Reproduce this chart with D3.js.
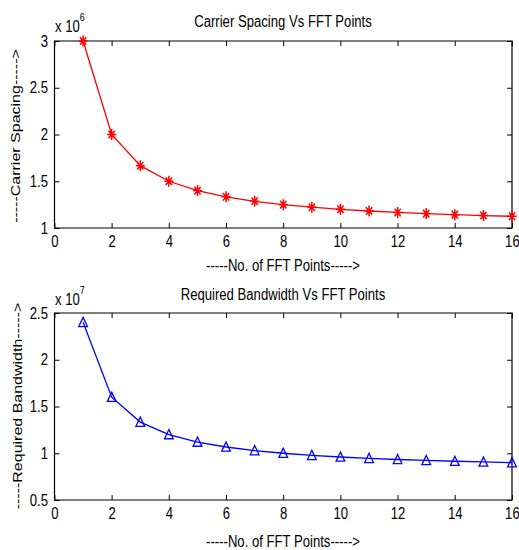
<!DOCTYPE html>
<html><head><meta charset="utf-8">
<script src="https://cdn.jsdelivr.net/npm/d3@7"></script>
<style>
body{margin:0;background:#fff;}
svg text{font-family:"Liberation Sans",Arial,Helvetica,sans-serif;fill:#000;}
svg path, svg line, svg rect{vector-effect:non-scaling-stroke;}
</style></head><body>
<script>
const fftPoints = [1,2,3,4,5,6,7,8,9,10,11,12,13,14,15,16];
const carrierSpacing = [3.0,2.0,1.6667,1.5,1.4,1.3333,1.2857,1.25,1.2222,1.2,1.1818,1.1667,1.1538,1.1429,1.1333,1.125]; // x 10^6
const bandwidth = [2.4,1.6,1.3333,1.2,1.12,1.0667,1.0286,1.0,0.9778,0.96,0.9455,0.9333,0.9231,0.9143,0.9067,0.9]; // x 10^7
const xTicks = [0,2,4,6,8,10,12,14,16];
const yTicksTop = [1,1.5,2,2.5,3];
const yTicksBottom = [0.5,1,1.5,2,2.5];

const W = 519, H = 550, SX = 0.82;
const svg = d3.select("body").append("svg").attr("width",W).attr("height",H);
const root = svg.append("g").attr("transform",`scale(${SX},1)`);
const fmt = d => String(d);

function panel(cfg){
  const g = root.append("g");
  const x = d3.scaleLinear().domain([0,16]).range([54.5/SX,512/SX]);
  const y = d3.scaleLinear().domain(cfg.ydom).range([cfg.bottom,cfg.top]);
  g.append("rect").attr("x",x(0)).attr("y",cfg.top).attr("width",x(16)-x(0)).attr("height",cfg.bottom-cfg.top)
    .attr("fill","#fff").attr("stroke","#000").attr("stroke-width",1.2);
  const styleAxis = sel => { sel.select(".domain").remove(); sel.selectAll("line").attr("stroke","#000").attr("stroke-width",1); sel.selectAll("text").style("font-size","16px"); };
  g.append("g").attr("transform",`translate(0,${cfg.bottom})`)
    .call(d3.axisBottom(x).tickValues(xTicks).tickFormat(fmt).tickSizeInner(-5).tickSizeOuter(0).tickPadding(8))
    .call(styleAxis);
  g.append("g").attr("transform",`translate(0,${cfg.top})`)
    .call(d3.axisTop(x).tickValues(xTicks).tickFormat("").tickSizeInner(-5).tickSizeOuter(0))
    .call(styleAxis);
  g.append("g").attr("transform",`translate(${x(0)},0)`)
    .call(d3.axisLeft(y).tickValues(cfg.yticks).tickFormat(fmt).tickSizeInner(-5/SX).tickSizeOuter(0).tickPadding(6.5/SX))
    .call(styleAxis);
  g.append("g").attr("transform",`translate(${x(16)},0)`)
    .call(d3.axisRight(y).tickValues(cfg.yticks).tickFormat("").tickSizeInner(-5/SX).tickSizeOuter(0))
    .call(styleAxis);
  const data = fftPoints.map((p,i)=>({p, v: cfg.values[i]}));
  g.append("path").datum(data).attr("fill","none").attr("stroke",cfg.color).attr("stroke-width",1.3)
    .attr("d", d3.line().x(d=>x(d.p)).y(d=>y(d.v)));
  const m = g.selectAll(".m").data(data).join("g").attr("transform",d=>`translate(${x(d.p)},${y(d.v)})`);
  if(cfg.marker==="star"){
    const s=5.5, t=3.8;
    m.append("path").attr("d",`M${-s},0L${s},0M0,${-s}L0,${s}M${-t},${-t}L${t},${t}M${-t},${t}L${t},${-t}`)
      .attr("stroke",cfg.color).attr("stroke-width",1.5).attr("fill","none");
  } else {
    m.append("path").attr("d","M0,-5L5.3,4.2L-5.3,4.2Z").attr("stroke",cfg.color).attr("stroke-width",1.3).attr("fill","none");
  }
  g.append("text").attr("x",283/SX).attr("y",cfg.titleY).attr("text-anchor","middle").style("font-size","16px").text(cfg.title);
  const e = g.append("text").attr("x",55/SX).attr("y",cfg.expY).style("font-size","16px");
  e.append("tspan").text("x 10");
  e.append("tspan").attr("dy",-11).style("font-size","11px").text(cfg.exp);
  g.append("text").attr("x",283/SX).attr("y",cfg.xlabY).attr("text-anchor","middle").style("font-size","16px").text("-----No. of FFT Points----->");
  g.append("text").attr("transform",`translate(${cfg.ylabX/SX},${cfg.ylabY}) rotate(-90)`).attr("text-anchor","middle").style("font-size","16px").text(cfg.ylab);
}

panel({top:41,bottom:228,ydom:[1,3],yticks:yTicksTop,values:carrierSpacing,color:"#ff0000",marker:"star",
  title:"Carrier Spacing Vs FFT Points",titleY:27,expY:32,exp:"6",xlabY:271,ylabX:20,ylabY:136,ylab:"-----Carrier Spacing----->"});
panel({top:313,bottom:500,ydom:[0.5,2.5],yticks:yTicksBottom,values:bandwidth,color:"#0000ff",marker:"tri",
  title:"Required Bandwidth Vs FFT Points",titleY:300,expY:305,exp:"7",xlabY:547,ylabX:22,ylabY:406,ylab:"-----Required Bandwidth----->"});
</script>
</body></html>
